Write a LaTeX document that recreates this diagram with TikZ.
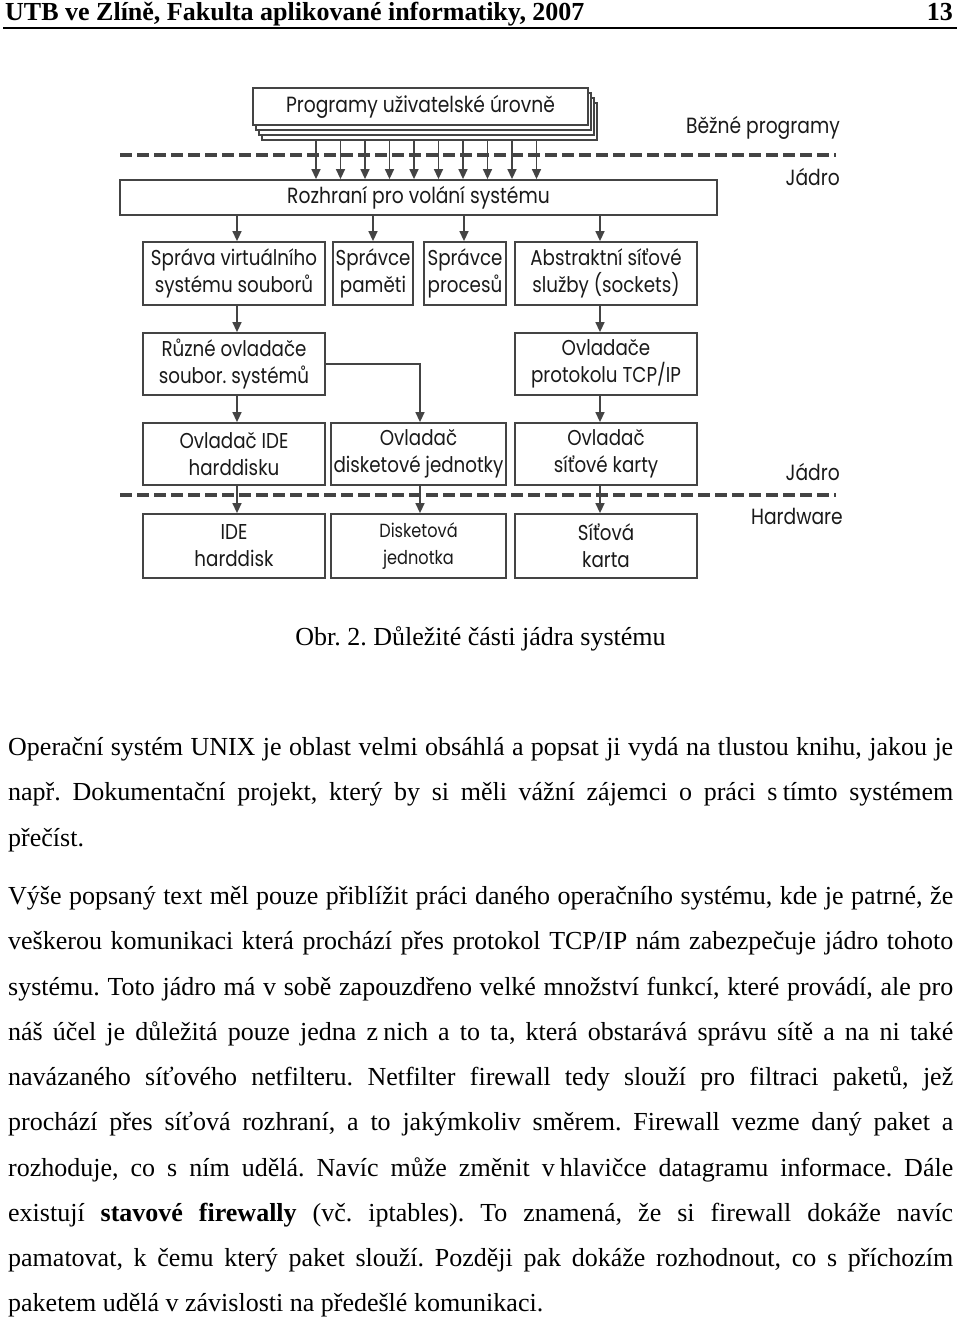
\documentclass[tikz,border=0pt]{standalone}
\usepackage{fontspec}
\setmainfont{Liberation Serif}
\newfontfamily\diagfont[FakeStretch=0.85]{Poppins}
\usetikzlibrary{arrows.meta}
\definecolor{ln}{HTML}{444444}
\definecolor{tx}{HTML}{1A1A1A}
\newcommand\jstline[3]{\node[body] (#1) at (8,#2) {\hbox to 945pt{#3}};}
\newcommand\lftline[3]{\node[body] (#1) at (8,#2) {#3};}
\frenchspacing
\begin{document}
\begin{tikzpicture}[x=1pt,y=-1pt,
  box/.style={draw=ln, line width=1.8pt, fill=white, inner sep=0pt, align=center,
    font=\diagfont\fontsize{21.5}{27}\selectfont, text=tx},
  arr/.style={draw=ln, line width=1.4pt, -{Triangle[length=10pt,width=9pt]}},
  sep/.style={draw=ln, line width=3.5pt, dash pattern=on 12pt off 5pt},
  lbl/.style={font=\diagfont\fontsize{22}{26}\selectfont, text=tx, inner sep=0pt},
  body/.style={font=\fontsize{26}{30}\selectfont, inner sep=0pt, anchor=base west},
]
\fill[white] (0,0) rectangle (960,1320);
\useasboundingbox (0,0) rectangle (960,1320);

% header
\node[anchor=base west, inner sep=0pt, font=\bfseries\fontsize{26}{30}\selectfont] (hd) at (5,20) {UTB ve Zlíně, Fakulta aplikované informatiky, 2007};
\node[anchor=base east, inner sep=0pt, font=\bfseries\fontsize{26}{30}\selectfont] (pg) at (953,20) {13};
\coordinate (r1) at (3,28);
\coordinate (r2) at (957,28);
\draw[line width=1.5pt] (r1) -- (r2);

% separators
\coordinate (s1a) at (120,155); \coordinate (s1b) at (836,155);
\coordinate (s2a) at (120,495); \coordinate (s2b) at (836,495);
\draw[sep] (s1a) -- (s1b);
\draw[sep] (s2a) -- (s2b);

% stacked boxes
\foreach \k in {3,2,1}{
  \node[box, minimum width=335pt, minimum height=37pt] (stk\k) at ({420.5+3*\k},{106.5+5*\k}) {};
}
\node[box, minimum width=335pt, minimum height=37pt, font=\diagfont\fontsize{22}{26}\selectfont] (stk0) at (420.5,106.5) {Programy uživatelské úrovně};

% system call interface
\node[box, minimum width=597pt, minimum height=35pt, font=\diagfont\fontsize{22}{26}\selectfont] (rozh) at (418.5,197.5) {Rozhraní pro volání systému};

\foreach \x in {316,340.5,365,389.5,414,438.5,463,487.5,512,536.5}{
  \draw[arr] (\x,0 |- stk3.south) -- (\x,0 |- rozh.north);
}

% row 2
\node[box, minimum width=182pt, minimum height=63pt] (sv) at (234,273.5) {Správa virtuálního\\systému souborů};
\node[box, minimum width=80pt, minimum height=63pt] (sp) at (373,273.5) {Správce\\paměti};
\node[box, minimum width=82pt, minimum height=63pt] (spr) at (465,273.5) {Správce\\procesů};
\node[box, minimum width=182pt, minimum height=63pt] (ab) at (606,273.5) {Abstraktní síťové\\služby (sockets)};

% row 3
\node[box, minimum width=182pt, minimum height=62pt] (ro) at (234,364) {Různé ovladače\\soubor. systémů};
\node[box, minimum width=182pt, minimum height=62pt] (tcp) at (606,364) {Ovladače\\protokolu TCP/IP};

% row 4
\node[box, minimum width=182pt, minimum height=62pt] (oide) at (234,454) {Ovladač IDE\\harddisku};
\node[box, minimum width=175pt, minimum height=62pt] (odis) at (418.5,454) {Ovladač\\disketové jednotky};
\node[box, minimum width=182pt, minimum height=62pt] (osit) at (606,454) {Ovladač\\síťové karty};

% row 5
\node[box, minimum width=182pt, minimum height=64pt] (hide) at (234,546) {IDE\\harddisk};
\node[box, minimum width=175pt, minimum height=64pt, font=\diagfont\fontsize{19}{27}\selectfont] (hdis) at (418.5,546) {Disketová\\jednotka};
\node[box, minimum width=182pt, minimum height=64pt] (hsit) at (606,546) {Síťová\\karta};

% connectors
\draw[arr] (237,0 |- rozh.south) -- (237,0 |- sv.north);
\draw[arr] (373,0 |- rozh.south) -- (373,0 |- sp.north);
\draw[arr] (464,0 |- rozh.south) -- (464,0 |- spr.north);
\draw[arr] (600,0 |- rozh.south) -- (600,0 |- ab.north);
\draw[arr] (237,0 |- sv.south) -- (237,0 |- ro.north);
\draw[arr] (600,0 |- ab.south) -- (600,0 |- tcp.north);
\draw[arr] (237,0 |- ro.south) -- (237,0 |- oide.north);
\draw[arr] (ro.east) -| (420,0 |- odis.north);
\draw[arr] (600,0 |- tcp.south) -- (600,0 |- osit.north);
\draw[arr] (237,0 |- oide.south) -- (237,0 |- hide.north);
\draw[arr] (420,0 |- odis.south) -- (420,0 |- hdis.north);
\draw[arr] (600,0 |- osit.south) -- (600,0 |- hsit.north);

% side labels
\node[lbl, anchor=east] (bp) at (840,128) {Běžné programy};
\node[lbl, anchor=east] (j1) at (840,177) {Jádro};
\node[lbl, anchor=east] (j2) at (840,472) {Jádro};
\node[lbl, anchor=east] (hw) at (843,516) {Hardware};

% caption
\node[anchor=base, inner sep=0pt, font=\fontsize{26}{30}\selectfont] (cap) at (480.5,645) {Obr. 2. Důležité části jádra systému};

% body text
\jstline{t1}{755}{Operační systém UNIX je oblast velmi obsáhlá a popsat ji vydá na tlustou knihu, jakou je}
\jstline{t2}{800}{např. Dokumentační projekt, který by si měli vážní zájemci o práci s\hspace{0.2em}tímto systémem}
\lftline{t3}{846}{přečíst.}
\jstline{t4}{904}{Výše popsaný text měl pouze přiblížit práci daného operačního systému, kde je patrné, že}
\jstline{t5}{949}{veškerou komunikaci která prochází přes protokol TCP/IP nám zabezpečuje jádro tohoto}
\jstline{t6}{995}{systému. Toto jádro má v sobě zapouzdřeno velké množství funkcí, které provádí, ale pro}
\jstline{t7}{1040}{náš účel je důležitá pouze jedna z\hspace{0.2em}nich a to ta, která obstarává správu sítě a na ni také}
\jstline{t8}{1085}{navázaného síťového netfilteru. Netfilter firewall tedy slouží pro filtraci paketů, jež}
\jstline{t9}{1130}{prochází přes síťová rozhraní, a to jakýmkoliv směrem. Firewall vezme daný paket a}
\jstline{t10}{1176}{rozhoduje, co s ním udělá. Navíc může změnit v\hspace{0.2em}hlavičce datagramu informace. Dále}
\jstline{t11}{1221}{existují \textbf{stavové firewally} (vč. iptables). To znamená, že si firewall dokáže navíc}
\jstline{t12}{1266}{pamatovat, k čemu který paket slouží. Později pak dokáže rozhodnout, co s příchozím}
\lftline{t13}{1311}{paketem udělá v závislosti na předešlé komunikaci.}
\end{tikzpicture}
\end{document}
